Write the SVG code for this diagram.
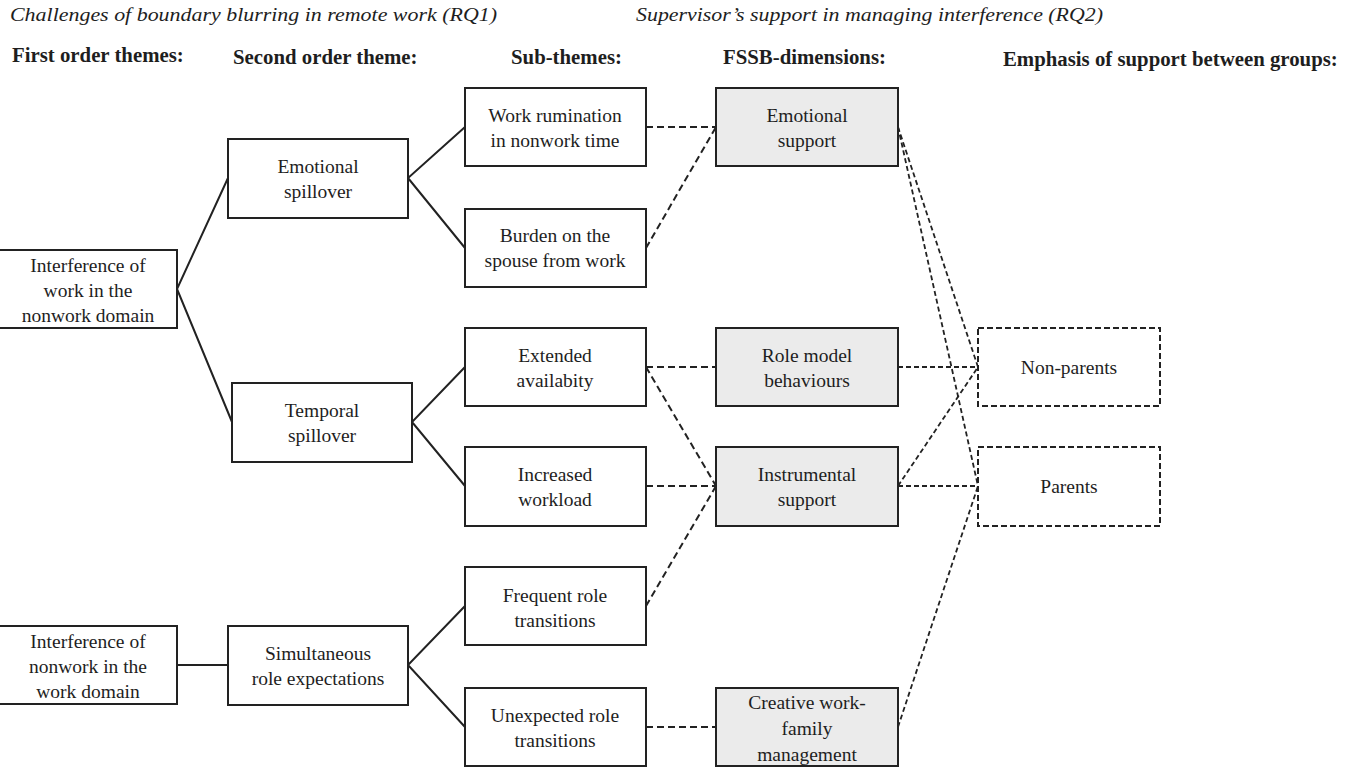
<svg xmlns="http://www.w3.org/2000/svg" width="1346" height="769" viewBox="0 0 1346 769">
<style>
text{font-family:"Liberation Serif","Times New Roman",serif;fill:#1e1e1e;}
.t{font-size:19px;font-style:italic;}
.h{font-size:20.8px;font-weight:bold;}
.n{font-size:19.5px;text-anchor:middle;}
.box{fill:#fff;stroke:#222;stroke-width:2;}
.gbox{fill:#ebebeb;stroke:#222;stroke-width:2;}
.dbox{fill:#fff;stroke:#222;stroke-width:2;stroke-dasharray:6,3;}
.s{stroke:#222;stroke-width:2;fill:none;}
.d{stroke:#222;stroke-width:2;fill:none;stroke-dasharray:7,4;}
.d2{stroke:#222;stroke-width:1.8;fill:none;stroke-dasharray:5,3;}
</style>
<rect width="1346" height="769" fill="#fff"/>
<g id="titles">
<text class="t" x="10" y="21" textLength="487" lengthAdjust="spacingAndGlyphs">Challenges of boundary blurring in remote work (RQ1)</text>
<text class="t" x="636" y="21" textLength="467" lengthAdjust="spacingAndGlyphs">Supervisor’s support in managing interference (RQ2)</text>
<text class="h" x="12" y="62">First order themes:</text>
<text class="h" x="233" y="64">Second order theme:</text>
<text class="h" x="511" y="64">Sub-themes:</text>
<text class="h" x="723" y="64">FSSB-dimensions:</text>
<text class="h" x="1003" y="66">Emphasis of support between groups:</text>
</g>
<g id="connectors">
<polyline class="s" points="228,178 177,289 232,422"/>
<line class="s" x1="177" y1="665" x2="228" y2="665"/>
<polyline class="s" points="465,127 408,178 465,248"/>
<polyline class="s" points="465,367 412,422 465,486"/>
<polyline class="s" points="465,606 408,665 465,727"/>
<line class="d" x1="646" y1="127" x2="716" y2="127"/>
<line class="d" x1="646" y1="248" x2="716" y2="127"/>
<line class="d" x1="646" y1="367" x2="716" y2="367"/>
<line class="d" x1="646" y1="367" x2="716" y2="486"/>
<line class="d" x1="646" y1="486" x2="716" y2="486"/>
<line class="d" x1="646" y1="606" x2="716" y2="486"/>
<line class="d" x1="646" y1="727" x2="716" y2="727"/>
<line class="d2" x1="898" y1="127" x2="978" y2="367"/>
<line class="d2" x1="898" y1="127" x2="978" y2="486"/>
<line class="d2" x1="898" y1="367" x2="978" y2="367"/>
<line class="d2" x1="898" y1="486" x2="978" y2="367"/>
<line class="d2" x1="898" y1="486" x2="978" y2="486"/>
<line class="d2" x1="898" y1="727" x2="978" y2="486"/>
</g>
<g id="first-work-nonwork">
<rect class="box" x="-2" y="250" width="179" height="78"/>
<text class="n" x="88" y="272">Interference of</text>
<text class="n" x="88" y="297">work in the</text>
<text class="n" x="88" y="322">nonwork domain</text>
</g>
<g id="first-nonwork-work">
<rect class="box" x="-2" y="626" width="179" height="78"/>
<text class="n" x="88" y="648">Interference of</text>
<text class="n" x="88" y="673">nonwork in the</text>
<text class="n" x="88" y="698">work domain</text>
</g>
<g id="emotional-spillover">
<rect class="box" x="228" y="139" width="180" height="79"/>
<text class="n" x="318" y="173">Emotional</text>
<text class="n" x="318" y="198">spillover</text>
</g>
<g id="temporal-spillover">
<rect class="box" x="232" y="383" width="180" height="79"/>
<text class="n" x="322" y="417">Temporal</text>
<text class="n" x="322" y="442">spillover</text>
</g>
<g id="simultaneous">
<rect class="box" x="228" y="626" width="180" height="79"/>
<text class="n" x="318" y="660">Simultaneous</text>
<text class="n" x="318" y="685">role expectations</text>
</g>
<g id="work-rumination">
<rect class="box" x="465" y="88" width="181" height="78"/>
<text class="n" x="555" y="122">Work rumination</text>
<text class="n" x="555" y="147">in nonwork time</text>
</g>
<g id="burden">
<rect class="box" x="465" y="209" width="181" height="78"/>
<text class="n" x="555" y="242">Burden on the</text>
<text class="n" x="555" y="267">spouse from work</text>
</g>
<g id="extended">
<rect class="box" x="465" y="328" width="181" height="78"/>
<text class="n" x="555" y="362">Extended</text>
<text class="n" x="555" y="387">availabity</text>
</g>
<g id="increased">
<rect class="box" x="465" y="447" width="181" height="79"/>
<text class="n" x="555" y="481">Increased</text>
<text class="n" x="555" y="506">workload</text>
</g>
<g id="frequent">
<rect class="box" x="465" y="567" width="181" height="78"/>
<text class="n" x="555" y="602">Frequent role</text>
<text class="n" x="555" y="627">transitions</text>
</g>
<g id="unexpected">
<rect class="box" x="465" y="688" width="181" height="78"/>
<text class="n" x="555" y="722">Unexpected role</text>
<text class="n" x="555" y="747">transitions</text>
</g>
<g id="emotional-support">
<rect class="gbox" x="716" y="88" width="182" height="78"/>
<text class="n" x="807" y="122">Emotional</text>
<text class="n" x="807" y="147">support</text>
</g>
<g id="role-model">
<rect class="gbox" x="716" y="328" width="182" height="78"/>
<text class="n" x="807" y="362">Role model</text>
<text class="n" x="807" y="387">behaviours</text>
</g>
<g id="instrumental">
<rect class="gbox" x="716" y="447" width="182" height="79"/>
<text class="n" x="807" y="481">Instrumental</text>
<text class="n" x="807" y="506">support</text>
</g>
<g id="creative">
<rect class="gbox" x="716" y="688" width="182" height="78"/>
<text class="n" x="807" y="709">Creative work-</text>
<text class="n" x="807" y="735">family</text>
<text class="n" x="807" y="761">management</text>
</g>
<g id="non-parents">
<rect class="dbox" x="978" y="328" width="182" height="78"/>
<text class="n" x="1069" y="374">Non-parents</text>
</g>
<g id="parents">
<rect class="dbox" x="978" y="447" width="182" height="79"/>
<text class="n" x="1069" y="493">Parents</text>
</g>
</svg>
